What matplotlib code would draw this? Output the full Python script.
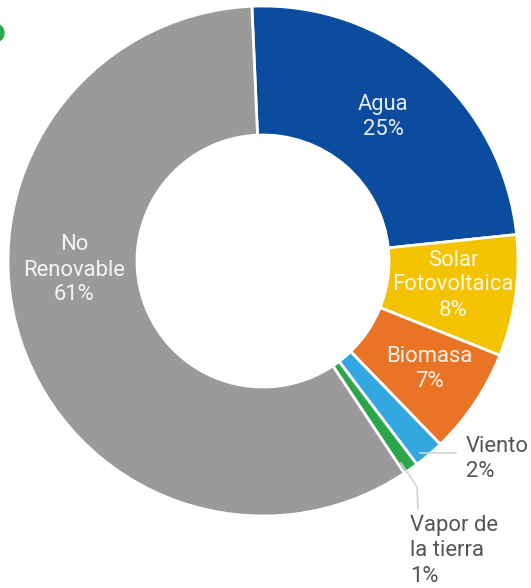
import matplotlib.pyplot as plt
from matplotlib.patches import Circle

plt.rcParams['font.family'] = ['Roboto', 'DejaVu Sans']

fuentes = ['Agua', 'Solar\nFotovoltaica', 'Biomasa', 'Viento', 'Vapor de\nla tierra', 'No\nRenovable']
porcentajes = [25, 8, 7, 2, 1, 61]
colores = ['#0B4C9E', '#F4C300', '#EA7426', '#33A7DF', '#2BA64B', '#9B999A']

W, H = 531, 588
fig = plt.figure(figsize=(W / 100, H / 100), dpi=100)
ax = fig.add_axes([0, 0, 1, 1])

cx, cy = 263, H - 261
R = 255
ax.pie(porcentajes, colors=colores, radius=R, center=(cx, cy),
       startangle=92.5, counterclock=False,
       wedgeprops=dict(width=129, edgecolor='white', linewidth=2))

# etiquetas dentro de los sectores (posiciones en pixeles)
dentro = {0: (383, 117), 1: (453, 285), 2: (429, 369), 5: (74, 270)}
for i, (x, y) in dentro.items():
    ax.text(x, H - y, f'{fuentes[i]}\n{porcentajes[i]}%', ha='center', va='center',
            fontsize=15.8, color='white', alpha=0.9, linespacing=1.25)

# etiquetas exteriores con lineas guia
ax.plot([420, 456], [H - 453, H - 453], color='#d4d4d4', lw=1.2)
ax.text(466, H - 459, f'{fuentes[3]}\n{porcentajes[3]}%', ha='left', va='center',
        fontsize=15.8, color='#555555', linespacing=1.25)

ax.plot([401, 417, 418], [H - 463, H - 487, H - 509], color='#d4d4d4', lw=1.2)
ax.text(410, H - 551, f'{fuentes[4]}\n{porcentajes[4]}%', ha='left', va='center',
        fontsize=15.8, color='#555555', linespacing=1.25)

# fragmento verde en la esquina
ax.add_patch(Circle((-5, H - 33), 9, color='#2BA64B'))

ax.set_xlim(0, W)
ax.set_ylim(0, H)
ax.set_aspect('equal')
ax.axis('off')

fig.savefig('out.png', dpi=100)
